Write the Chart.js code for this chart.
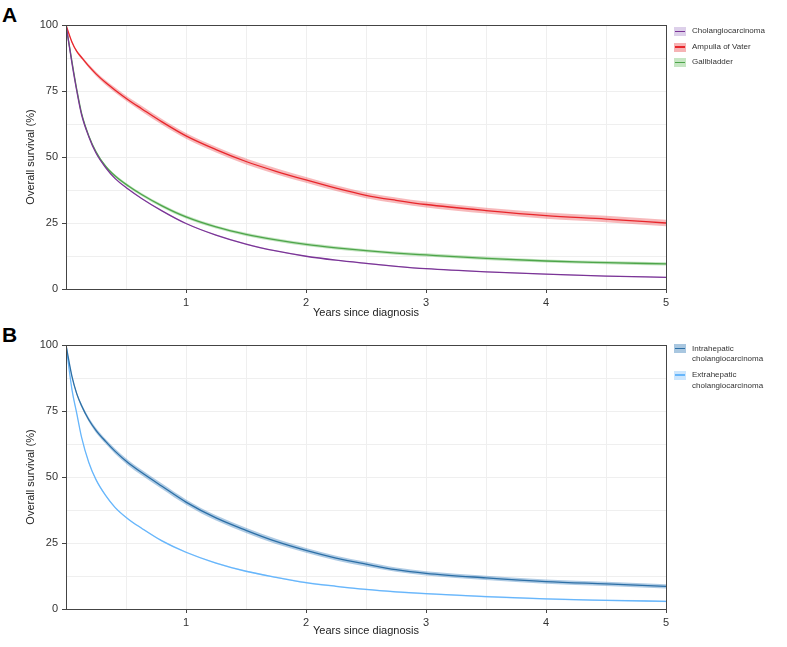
<!DOCTYPE html>
<html>
<head>
<meta charset="utf-8">
<script src="https://cdn.jsdelivr.net/npm/chart.js@4/dist/chart.umd.min.js"></script>
<style>
  html, body { margin: 0; padding: 0; background: #fff; overflow: hidden; }
  body { width: 787px; height: 647px; position: relative; font-family: "Liberation Sans", Arial, sans-serif; }
  .panel-label { position: absolute; font-weight: bold; font-size: 21px; color: #000; }
  .wrap { position: absolute; left: 0; }
  .leg-item { position: absolute; left: 674px; color: #333; white-space: nowrap; }
  .swatch { position: absolute; left: 0; width: 12px; height: 9px; }
  .swatch::after { content: ''; position: absolute; left: 1px; right: 1px; top: 3.8px; height: 1.4px; background: var(--line); }
  .leg-text { position: absolute; left: 18px; }
</style>
</head>
<body>
<div class="panel-label" style="left:2px; top:3px;">A</div>
<div class="panel-label" style="left:2px; top:323px;">B</div>

<div class="wrap" style="top:0; width:680px; height:322px;"><canvas id="chartA"></canvas></div>
<div class="wrap" style="top:322px; width:680px; height:325px;"><canvas id="chartB"></canvas></div>

<script>
// --- Data (years since diagnosis, overall survival %) ---
const years = [0, 0.05, 0.09, 0.13, 0.19, 0.25, 0.33, 0.41, 0.52, 0.63, 0.8, 1, 1.25, 1.5, 1.75, 2, 2.25, 2.5, 2.75, 3, 3.5, 4, 4.5, 5];

const cholangio   = [100, 85.5, 75, 66, 57.7, 51.5, 46, 41.8, 37.8, 34.3, 29.6, 24.8, 20.4, 17, 14.4, 12.4, 10.9, 9.7, 8.6, 7.7, 6.5, 5.6, 4.9, 4.4];
const ampulla     = [100, 93.5, 90, 87.7, 84.4, 81.5, 78.2, 75.3, 71.6, 68.3, 63.3, 58, 52.8, 48.3, 44.6, 41.3, 38.2, 35.5, 33.6, 32, 29.7, 27.8, 26.5, 25];
const gallbladder = [100, 86, 75.5, 66.5, 58, 52, 46.5, 42.8, 39, 35.8, 31.5, 27.3, 23.5, 20.7, 18.6, 16.9, 15.6, 14.5, 13.6, 12.9, 11.6, 10.6, 10, 9.5];
const intrahep    = [100, 88, 81.5, 77, 71.7, 67.7, 63.5, 59.7, 55.3, 51.7, 46.5, 40.5, 34.5, 29.8, 25.6, 22.2, 19.3, 17, 14.9, 13.5, 11.8, 10.4, 9.5, 8.6];
const extrahep    = [100, 83, 74, 65, 55.5, 49, 43, 38.4, 34, 30.6, 25.8, 21.5, 17.4, 14.3, 12, 10, 8.6, 7.4, 6.5, 5.8, 4.7, 3.8, 3.3, 2.9];

// confidence band half-widths (%)
const cholangioCi   = [0, 0.2, 0.2, 0.2, 0.2, 0.2, 0.2, 0.2, 0.2, 0.2, 0.2, 0.2, 0.2, 0.2, 0.2, 0.2, 0.2, 0.2, 0.2, 0.2, 0.2, 0.2, 0.2, 0.2];
const ampullaCi     = [0, 0.4, 0.5, 0.6, 0.7, 0.8, 0.9, 1, 1, 1.1, 1.1, 1.1, 1.1, 1.1, 1.1, 1.1, 1.1, 1.1, 1.1, 1.1, 1.1, 1.2, 1.2, 1.2];
const gallbladderCi = [0, 0.3, 0.4, 0.4, 0.5, 0.5, 0.5, 0.6, 0.6, 0.6, 0.6, 0.6, 0.6, 0.6, 0.6, 0.6, 0.6, 0.6, 0.6, 0.6, 0.6, 0.6, 0.6, 0.6];
const intrahepCi    = [0, 0.5, 0.6, 0.7, 0.8, 0.9, 0.9, 1, 1, 1, 1, 1, 1, 1, 1, 0.9, 0.9, 0.9, 0.8, 0.8, 0.8, 0.8, 0.8, 0.8];
const extrahepCi    = [0, 0.3, 0.3, 0.3, 0.3, 0.3, 0.3, 0.3, 0.3, 0.3, 0.3, 0.3, 0.3, 0.3, 0.3, 0.3, 0.3, 0.3, 0.3, 0.3, 0.3, 0.3, 0.3, 0.3];

const yTicks = [0, 25, 50, 75, 100];
const xTicks = [1, 2, 3, 4, 5];

const seriesA = [
    { label: 'Cholangiocarcinoma', values: cholangio, ci: cholangioCi, line: '#7b3597', band: 'rgba(150,90,180,0.35)', swatch: '#ddd0ea' },
    { label: 'Ampulla of Vater', values: ampulla, ci: ampullaCi, line: '#e8262b', band: 'rgba(238,100,105,0.45)', swatch: '#f6b3b5' },
    { label: 'Gallbladder', values: gallbladder, ci: gallbladderCi, line: '#4ea54a', band: 'rgba(120,195,115,0.45)', swatch: '#c6e6c3' }
];
const seriesB = [
    { label: ['Intrahepatic', 'cholangiocarcinoma'], values: intrahep, ci: intrahepCi, line: '#2c6fa6', band: 'rgba(65,130,190,0.42)', swatch: '#a9c7e0' },
    { label: ['Extrahepatic', 'cholangiocarcinoma'], values: extrahep, ci: extrahepCi, line: '#67b6fb', band: 'rgba(120,190,255,0.35)', swatch: '#cde6fd' }
];

const FONT = "'Liberation Sans', Arial, sans-serif";

function buildDatasets(series) {
    const ds = [];
    series.forEach(s => {
        const pts = (arr) => years.map((t, i) => ({ x: t, y: arr[i] }));
        const lo = s.values.map((v, i) => v - s.ci[i]);
        const hi = s.values.map((v, i) => v + s.ci[i]);
        const common = { pointRadius: 0, cubicInterpolationMode: 'monotone', order: 2 };
        ds.push({ ...common, data: pts(lo), borderWidth: 0, borderColor: 'transparent', fill: false });
        ds.push({ ...common, data: pts(hi), borderWidth: 0, borderColor: 'transparent', fill: '-1', backgroundColor: s.band });
    });
    series.forEach(s => {
        ds.push({
            data: years.map((t, i) => ({ x: t, y: s.values[i] })),
            borderColor: s.line, borderWidth: 1.3, pointRadius: 0,
            cubicInterpolationMode: 'monotone', fill: false, order: 1
        });
    });
    return ds;
}

// box around the plot area
const frame = {
    id: 'frame',
    afterDraw(chart) {
        const a = chart.chartArea, c = chart.ctx;
        c.save();
        c.strokeStyle = '#444';
        c.lineWidth = 1;
        c.strokeRect(Math.round(a.left) + 0.5, Math.round(a.top) + 0.5, Math.round(a.right - a.left), Math.round(a.bottom - a.top));
        c.restore();
    }
};

function makeChart(id, series, padTop, xHeight, titlePad) {
    return new Chart(document.getElementById(id), {
        type: 'line',
        data: { datasets: buildDatasets(series) },
        plugins: [frame],
        options: {
            responsive: true,
            maintainAspectRatio: false,
            animation: false,
            layout: { padding: { top: padTop, right: 14, left: 0, bottom: 0 } },
            plugins: { legend: { display: false }, tooltip: { enabled: false } },
            scales: {
                x: {
                    type: 'linear', min: 0, max: 5,
                    afterFit: (s) => { s.height = xHeight; },
                    ticks: {
                        stepSize: 0.5, color: '#333', padding: 3, maxRotation: 0, autoSkip: false,
                        font: { family: FONT, size: 11 },
                        callback: (v) => xTicks.includes(v) ? String(v) : ''
                    },
                    grid: {
                        color: '#efefef', lineWidth: 1, tickLength: 4,
                        tickColor: (c) => xTicks.includes(c.tick.value) ? '#444' : 'rgba(0,0,0,0)'
                    },
                    border: { color: '#444', width: 1 },
                    title: { display: true, text: 'Years since diagnosis', color: '#222', font: { family: FONT, size: 11 }, padding: { top: 0, bottom: titlePad } }
                },
                y: {
                    min: 0, max: 100,
                    afterFit: (s) => { s.width = 66; },
                    ticks: {
                        stepSize: 12.5, color: '#333', padding: 4,
                        font: { family: FONT, size: 11 },
                        callback: (v) => yTicks.includes(v) ? String(v) : ''
                    },
                    grid: {
                        color: '#efefef', lineWidth: 1, tickLength: 4,
                        tickColor: (c) => yTicks.includes(c.tick.value) ? '#444' : 'rgba(0,0,0,0)'
                    },
                    border: { color: '#444', width: 1 },
                    title: { display: true, text: 'Overall survival (%)', color: '#222', font: { family: FONT, size: 11 }, padding: { top: 24, bottom: 0 } }
                }
            }
        }
    });
}

// HTML legend: swatch = light band colour with the line through it
function makeLegend(series, top, step, fontSize, lineHeight, textOffset) {
    series.forEach((s, i) => {
        const item = document.createElement('div');
        item.className = 'leg-item';
        item.style.top = (top + i * step) + 'px';
        item.style.fontSize = fontSize + 'px';
        item.style.lineHeight = lineHeight + 'px';
        const sw = document.createElement('div');
        sw.className = 'swatch';
        sw.style.background = s.swatch;
        sw.style.setProperty('--line', s.line);
        const txt = document.createElement('div');
        txt.className = 'leg-text';
        txt.style.top = textOffset + 'px';
        txt.innerHTML = [].concat(s.label).join('<br>');
        item.appendChild(sw);
        item.appendChild(txt);
        document.body.appendChild(item);
    });
}

makeChart('chartA', seriesA, 25, 33, 2);
makeChart('chartB', seriesB, 23, 38, 9);
makeLegend(seriesA, 27, 15.5, 8, 10, -1);
makeLegend(seriesB, 344, 26.5, 8, 10.5, -0.5);
</script>
</body>
</html>
